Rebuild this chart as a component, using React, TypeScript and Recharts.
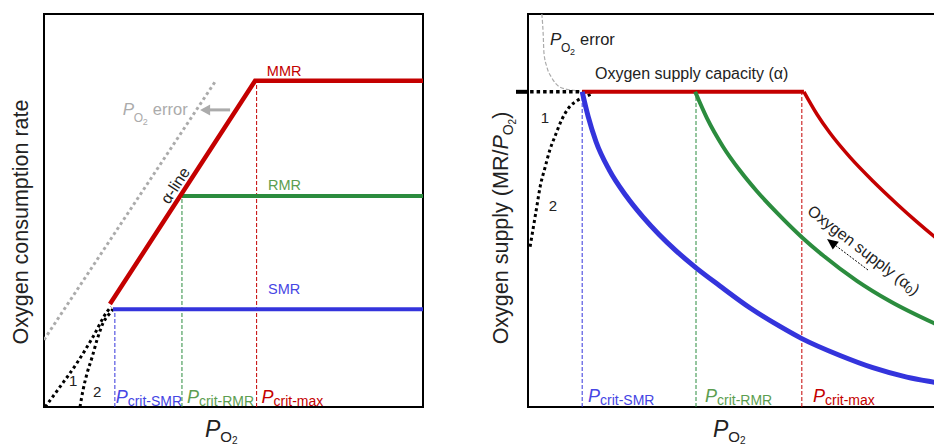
import React from 'react';
import { ComposedChart, Line, XAxis, YAxis, ReferenceArea, Scatter } from 'recharts';

// ---------- LEFT PANEL: oxygen consumption rate vs PO2 (data units 0-100) ----------
const mmrX = [17.4, 55.7, 100];
const mmrY = [26.2, 83.0, 83.0];
const rmrX = [36.4, 100];
const rmrY = [53.7, 53.7];
const smrX = [18.2, 100];
const smrY = [24.9, 24.9];
const errLX = [0, 45.1];
const errLY = [17.1, 82.7];
const path1X = [0.3, 4.2, 8.7, 12.9, 16.6, 17.7];
const path1Y = [0, 5.1, 11.2, 17.8, 24.2, 25.5];
const path2X = [9.5, 10.3, 11.4, 12.7, 14.0, 15.6, 17.4, 18.2];
const path2Y = [0, 4.3, 8.7, 12.7, 17.1, 21.4, 23.9, 24.9];
const pcritLX = [18.7, 36.4, 56.1]; // SMR, RMR, max
const pcritLTop = [24.9, 53.7, 83.0];
const errArrowLX = [49.1, 43.5];
const errArrowLY = [75.6, 75.6];
const errArrowTipL = [{ x: 41.2, y: 75.6 }];

// ---------- RIGHT PANEL: oxygen supply (MR/PO2) vs PO2 ----------
const capX = [12.9, 65.7];
const capY = [80.2, 80.2];
const blueX = [12.9, 14.3, 16.2, 19.3, 23.3, 27.4, 31.2, 35.2, 39.8, 45.7, 52.9, 60.0, 65.2, 74.3, 82.1, 90.2, 96.7, 100];
const blueY = [80.2, 74.0, 67.5, 60.4, 53.8, 48.3, 43.9, 39.8, 35.6, 30.8, 25.2, 20.5, 17.4, 13.1, 10.0, 7.6, 6.3, 5.7];
const greenX = [39.8, 42.6, 46.4, 50.5, 54.5, 59.3, 65.2, 70.2, 78.3, 86.2, 96.7, 100];
const greenY = [80.2, 73.5, 66.3, 60.1, 54.9, 49.4, 43.2, 38.6, 32.1, 26.9, 21.3, 19.7];
const redCurveX = [65.7, 68.8, 71.9, 76.7, 82.1, 87.9, 92.6, 96.7, 100];
const redCurveY = [80.2, 74.5, 69.7, 63.5, 57.5, 51.6, 47.1, 43.4, 40.6];
const alphaDotX = [0.5, 15.5];
const alphaDotY = [80.2, 80.2];
const supplyCurveX = [0.5, 1.3, 2.1, 2.9, 4.1, 5.2, 6.4, 8.0, 9.6, 11.6, 14.0, 15.5];
const supplyCurveY = [40.8, 45.9, 51.0, 56.1, 61.1, 65.4, 68.8, 73.0, 76.0, 77.9, 79.1, 79.8];
const errRX = [3.3, 3.6, 3.8, 4.5, 5.7, 7.6, 10.0, 12.4];
const errRY = [100, 95.2, 90.1, 86.5, 83.7, 81.4, 80.7, 80.4];
const pcritRX = [12.9, 40.0, 65.2];
const pcritRTop = [80.2, 80.2, 80.2];
const alphaTick = [80.2];
const supplyArrowX = [80.95, 73.1];
const supplyArrowY = [34.86, 41.2];
const supplyArrowTip = [{ x: 71.2, y: 42.75 }];

// annotation anchors (data units)
const leftNotes = [
  { id: 'MMR', x: 58.8, y: 84.2 },
  { id: 'RMR', x: 59.1, y: 55.2 },
  { id: 'SMR', x: 59.1, y: 28.8 },
  { id: 'one', x: 7.7, y: 5.3 },
  { id: 'two', x: 14.0, y: 2.5 },
  { id: 'errL', x: 20.8, y: 74.3 },
  { id: 'alpha', x: 34.6, y: 56.4 },
  { id: 'pSMR', x: 18.9, y: 1.0 },
  { id: 'pRMR', x: 37.7, y: 1.0 },
  { id: 'pMax', x: 57.4, y: 1.0 },
];
const rightNotes = [
  { id: 'errR', x: 5.24, y: 92.1 },
  { id: 'cap', x: 15.95, y: 83.5 },
  { id: 'one', x: 4.05, y: 72.2 },
  { id: 'two', x: 5.95, y: 50.0 },
  { id: 'supply', x: 80, y: 40.0 },
  { id: 'pSMR', x: 14.29, y: 1.27 },
  { id: 'pRMR', x: 42.14, y: 1.27 },
  { id: 'pMax', x: 67.86, y: 1.27 },
];

const zip = (xs: number[], ys: number[]) => xs.map((x, i) => ({ x, y: ys[i] }));
const vline = (x: number, top: number) => [{ x, y: 0 }, { x, y: top }];

const FONT = '"Liberation Sans", Arial, Helvetica, sans-serif';
const RED = '#c40000';
const GREEN = '#2b8c3e';
const BLUE = '#3434dc';
const GREEN_T = '#5c9e50';
const BLUE_T = '#4646e4';
const GRAY = '#ababab';
const INK = '#222222';

const Pcrit = ({ x, y, color, sub }: any) => (
  <text x={x} y={y} fill={color} fontFamily={FONT}>
    <tspan fontStyle="italic" fontSize={18}>P</tspan>
    <tspan fontSize={14} dy={3}>{sub}</tspan>
  </text>
);

const PO2Err = ({ x, y, color }: any) => (
  <g fill={color} fontFamily={FONT}>
    <text x={x} y={y} fontSize={17} fontStyle="italic">P</text>
    <text x={x + 11} y={y + 7} fontSize={12}>O</text>
    <text x={x + 20} y={y + 10} fontSize={9}>2</text>
    <text x={x + 30} y={y} fontSize={16.5}>error</text>
  </g>
);

const renderNote = (props: any) => {
  const { cx, cy, payload } = props;
  switch (payload.id) {
    case 'MMR':
      return <text x={cx} y={cy} fill={RED} fontSize={14.5} fontFamily={FONT}>MMR</text>;
    case 'RMR':
      return <text x={cx} y={cy} fill={GREEN_T} fontSize={14.5} fontFamily={FONT}>RMR</text>;
    case 'SMR':
      return <text x={cx} y={cy} fill={BLUE_T} fontSize={14.5} fontFamily={FONT}>SMR</text>;
    case 'one':
      return <text x={cx} y={cy} textAnchor="middle" fill={INK} fontSize={15} fontFamily={FONT}>1</text>;
    case 'two':
      return <text x={cx} y={cy} textAnchor="middle" fill={INK} fontSize={15} fontFamily={FONT}>2</text>;
    case 'errL':
      return <PO2Err x={cx} y={cy} color={GRAY} />;
    case 'errR':
      return <PO2Err x={cx} y={cy} color={INK} />;
    case 'alpha':
      return (
        <text x={cx} y={cy} textAnchor="middle" dominantBaseline="central" fill={INK} fontSize={16} fontFamily={FONT}
          transform={`rotate(-57 ${cx} ${cy})`}>α-line</text>
      );
    case 'cap':
      return <text x={cx} y={cy} fill={INK} fontSize={16} fontFamily={FONT}>Oxygen supply capacity (α)</text>;
    case 'supply':
      return (
        <text x={cx} y={cy} textAnchor="middle" dominantBaseline="central" fill={INK} fontSize={16} fontFamily={FONT}
          transform={`rotate(37.5 ${cx} ${cy})`}>
          <tspan>Oxygen supply (α</tspan>
          <tspan fontSize={11} dy={4}>0</tspan>
          <tspan dy={-4}>)</tspan>
        </text>
      );
    case 'pSMR':
      return <Pcrit x={cx} y={cy} color={BLUE_T} sub="crit-SMR" />;
    case 'pRMR':
      return <Pcrit x={cx} y={cy} color={GREEN_T} sub="crit-RMR" />;
    case 'pMax':
      return <Pcrit x={cx} y={cy} color={RED} sub="crit-max" />;
    default:
      return <g />;
  }
};

const arrowShape = (deg: number, len: number, hw: number, color: string) => (props: any) => {
  const { cx, cy } = props;
  const a = (deg * Math.PI) / 180;
  const ux = Math.cos(a), uy = Math.sin(a);
  const bx = cx - ux * len, by = cy - uy * len;
  const px = -uy * hw, py = ux * hw;
  return <polygon points={`${cx},${cy} ${bx + px},${by + py} ${bx - px},${by - py}`} fill={color} />;
};

const XTitle = (props: any) => {
  const { viewBox, px } = props;
  return (
    <text x={viewBox.x + px} y={viewBox.y + 30} fill={INK} fontFamily={FONT}>
      <tspan fontStyle="italic" fontSize={23}>P</tspan>
      <tspan fontSize={15} dy={5}>O</tspan>
      <tspan fontSize={10} dy={2}>2</tspan>
    </text>
  );
};

const YTitleLeft = (props: any) => {
  const { viewBox } = props;
  const x = viewBox.x + 28, y = viewBox.y + 208;
  return (
    <text x={x} y={y} textAnchor="middle" fill={INK} fontSize={21.5} fontFamily={FONT} transform={`rotate(-90 ${x} ${y})`}>
      Oxygen consumption rate
    </text>
  );
};

const YTitleRight = (props: any) => {
  const { viewBox } = props;
  const x = viewBox.x + 28, y = viewBox.y + 214;
  return (
    <text x={x} y={y} textAnchor="middle" fill={INK} fontSize={21.5} fontFamily={FONT} transform={`rotate(-90 ${x} ${y})`}>
      <tspan>Oxygen supply (MR/</tspan>
      <tspan fontStyle="italic">P</tspan>
      <tspan fontSize={14} dy={5}>O</tspan>
      <tspan fontSize={10} dy={3}>2</tspan>
      <tspan dy={-8}>)</tspan>
    </text>
  );
};

const common = { dot: false, activeDot: false, isAnimationActive: false, dataKey: 'y' } as any;

const LeftChart = () => (
  <ComposedChart width={470} height={446} margin={{ top: 14, right: 47, bottom: 0, left: 0 }}>
    <XAxis type="number" dataKey="x" domain={[0, 100]} allowDataOverflow tick={false} tickLine={false} axisLine={false}
      height={39} label={<XTitle px={161} />} />
    <YAxis type="number" dataKey="y" domain={[0, 100]} allowDataOverflow tick={false} tickLine={false} axisLine={false}
      width={44} label={<YTitleLeft />} />
    <ReferenceArea x1={0} x2={100} y1={0} y2={100} fill="none" fillOpacity={0} stroke="#000" strokeWidth={2} ifOverflow="visible" />
    <Line {...common} data={vline(pcritLX[0], pcritLTop[0])} stroke={BLUE} strokeWidth={1} strokeDasharray="4 2" />
    <Line {...common} data={vline(pcritLX[1], pcritLTop[1])} stroke={GREEN} strokeWidth={1} strokeDasharray="4 2" />
    <Line {...common} data={vline(pcritLX[2], pcritLTop[2])} stroke={RED} strokeWidth={1} strokeDasharray="4 2" />
    <Line {...common} data={zip(errLX, errLY)} stroke={GRAY} strokeWidth={3} strokeDasharray="3 3" />
    <Line {...common} data={zip(path1X, path1Y)} type="monotone" stroke="#000" strokeWidth={3} strokeDasharray="3 3" />
    <Line {...common} data={zip(path2X, path2Y)} type="monotone" stroke="#000" strokeWidth={3} strokeDasharray="3 3" />
    <Line {...common} data={zip(smrX, smrY)} stroke={BLUE} strokeWidth={4} />
    <Line {...common} data={zip(rmrX, rmrY)} stroke={GREEN} strokeWidth={4} />
    <Line {...common} data={zip(mmrX, mmrY)} stroke={RED} strokeWidth={4.5} />
    <Line {...common} data={zip(errArrowLX, errArrowLY)} stroke={GRAY} strokeWidth={3} />
    <Scatter data={errArrowTipL} dataKey="y" isAnimationActive={false} shape={arrowShape(180, 10, 5.5, GRAY)} />
    <Scatter data={leftNotes} dataKey="y" isAnimationActive={false} shape={renderNote} />
  </ComposedChart>
);

const RightChart = () => (
  <ComposedChart width={480} height={446} margin={{ top: 14, right: 12, bottom: 0, left: 0 }}>
    <XAxis type="number" dataKey="x" domain={[0, 100]} allowDataOverflow tick={false} tickLine={false} axisLine={false}
      height={39} label={<XTitle px={185} />} />
    <YAxis type="number" dataKey="y" domain={[0, 100]} allowDataOverflow ticks={alphaTick} interval={0}
      tick={() => <g />} tickSize={12} tickLine={{ stroke: '#000', strokeWidth: 4 }} axisLine={false}
      width={48} label={<YTitleRight />} />
    <ReferenceArea x1={0} x2={100} y1={0} y2={100} fill="none" fillOpacity={0} stroke="#000" strokeWidth={2} ifOverflow="visible" />
    <Line {...common} data={vline(pcritRX[0], pcritRTop[0])} stroke={BLUE} strokeWidth={1} strokeDasharray="4 2" />
    <Line {...common} data={vline(pcritRX[1], pcritRTop[1])} stroke={GREEN} strokeWidth={1} strokeDasharray="4 2" />
    <Line {...common} data={vline(pcritRX[2], pcritRTop[2])} stroke={RED} strokeWidth={1} strokeDasharray="4 2" />
    <Line {...common} data={zip(errRX, errRY)} type="monotone" stroke={GRAY} strokeWidth={1.2} strokeDasharray="4 2" />
    <Line {...common} data={zip(supplyCurveX, supplyCurveY)} type="monotone" stroke="#000" strokeWidth={3} strokeDasharray="3 3" />
    <Line {...common} data={zip(alphaDotX, alphaDotY)} stroke="#000" strokeWidth={3.5} strokeDasharray="3.5 3" />
    <Line {...common} data={zip(capX, capY)} stroke={RED} strokeWidth={4} />
    <Line {...common} data={zip(redCurveX, redCurveY)} type="monotone" stroke={RED} strokeWidth={3.5} />
    <Line {...common} data={zip(greenX, greenY)} type="monotone" stroke={GREEN} strokeWidth={4} />
    <Line {...common} data={zip(blueX, blueY)} type="monotone" stroke={BLUE} strokeWidth={5} />
    <Line {...common} data={zip(supplyArrowX, supplyArrowY)} stroke="#000" strokeWidth={1} strokeDasharray="2 1.5" />
    <Scatter data={supplyArrowTip} dataKey="y" isAnimationActive={false} shape={arrowShape(-142.9, 11, 5, '#000')} />
    <Scatter data={rightNotes} dataKey="y" isAnimationActive={false} shape={renderNote} />
  </ComposedChart>
);

export default function App() {
  return (
    <div style={{ position: 'fixed', left: 0, top: 0, width: 934, height: 446, overflow: 'hidden', background: '#fff' }}>
      <div style={{ position: 'absolute', left: 0, top: 0 }}>
        <LeftChart />
      </div>
      <div style={{ position: 'absolute', left: 480, top: 0 }}>
        <RightChart />
      </div>
    </div>
  );
}
